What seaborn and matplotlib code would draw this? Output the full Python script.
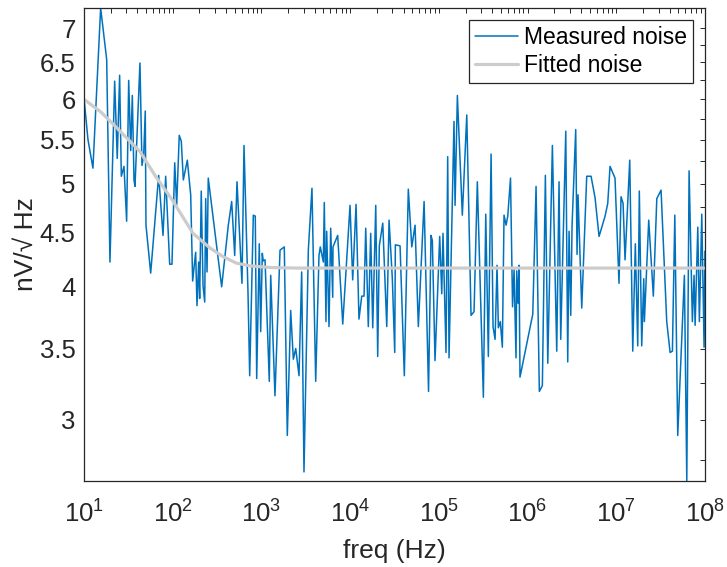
# -*- coding: utf-8 -*-
"""
Noise spectrum, measured vs fitted (log-log)
"""

import numpy as np
import pandas as pd
import seaborn as sns
import matplotlib.pyplot as plt
from matplotlib.ticker import FixedLocator, FixedFormatter, NullFormatter, LogLocator, LogFormatterSciNotation

#%% data (x given as log10 of frequency)
meas_logf = [1.000, 1.045, 1.101, 1.188, 1.256, 1.293, 1.346, 1.375, 1.402, 1.421,
             1.451, 1.481, 1.504, 1.527, 1.545, 1.564, 1.575, 1.631, 1.654, 1.673,
             1.691, 1.699, 1.752, 1.842, 1.891, 1.921, 1.966, 1.992, 2.023, 2.045,
             2.074, 2.097, 2.120, 2.165, 2.203, 2.225, 2.259, 2.274, 2.293, 2.304,
             2.322, 2.342, 2.361, 2.372, 2.387, 2.401, 2.552, 2.627, 2.665, 2.699,
             2.725, 2.781, 2.804, 2.849, 2.868, 2.909, 2.931, 2.947, 2.976, 2.992,
             3.010, 3.021, 3.041, 3.089, 3.105, 3.153, 3.210, 3.258, 3.292, 3.330,
             3.360, 3.387, 3.424, 3.454, 3.480, 3.529, 3.570, 3.612, 3.649, 3.664,
             3.698, 3.709, 3.728, 3.736, 3.762, 3.781, 3.804, 3.807, 3.860, 3.917,
             3.999, 4.029, 4.067, 4.100, 4.131, 4.157, 4.176, 4.205, 4.232, 4.255,
             4.289, 4.311, 4.329, 4.368, 4.413, 4.439, 4.476, 4.503, 4.510, 4.563,
             4.611, 4.656, 4.695, 4.732, 4.769, 4.834, 4.884, 4.912, 4.927, 4.957,
             5.010, 5.033, 5.047, 5.081, 5.100, 5.115, 5.171, 5.183, 5.209, 5.265,
             5.315, 5.363, 5.397, 5.434, 5.502, 5.529, 5.558, 5.589, 5.611, 5.634,
             5.656, 5.671, 5.693, 5.716, 5.735, 5.758, 5.777, 5.808, 5.831, 5.848,
             5.870, 5.878, 5.893, 5.904, 5.915, 6.059, 6.096, 6.133, 6.167, 6.201,
             6.228, 6.280, 6.329, 6.355, 6.374, 6.431, 6.453, 6.468, 6.487, 6.502,
             6.543, 6.558, 6.569, 6.611, 6.667, 6.716, 6.761, 6.806, 6.874, 6.904,
             6.930, 6.986, 7.031, 7.054, 7.077, 7.099, 7.152, 7.186, 7.215, 7.242,
             7.260, 7.287, 7.310, 7.317, 7.366, 7.418, 7.457, 7.505, 7.569, 7.607,
             7.633, 7.660, 7.693, 7.768, 7.795, 7.821, 7.858, 7.877, 7.889, 7.919,
             7.937, 7.964, 7.990, 8.000]
meas_noise = [6.02, 5.50, 5.17, 7.31, 6.54, 4.22, 6.24, 5.28, 6.32, 5.08,
              5.19, 4.61, 6.25, 5.37, 6.05, 5.04, 4.97, 6.49, 5.20, 5.31,
              5.85, 4.57, 4.12, 5.09, 4.47, 5.08, 4.20, 4.20, 5.23, 4.77,
              5.55, 5.48, 5.04, 5.26, 4.88, 4.05, 4.31, 3.84, 4.22, 3.90,
              4.92, 4.01, 3.87, 4.84, 4.13, 5.06, 4.00, 4.57, 4.81, 4.28,
              5.02, 4.03, 5.43, 3.95, 3.30, 4.67, 4.66, 3.28, 4.39, 3.63,
              4.30, 4.23, 4.24, 3.26, 4.10, 3.16, 4.33, 4.36, 2.90, 3.80,
              3.42, 3.50, 3.30, 4.13, 2.68, 4.33, 4.95, 3.26, 4.28, 4.36,
              4.22, 4.80, 3.71, 4.51, 3.67, 4.54, 3.91, 4.36, 4.47, 3.69,
              4.77, 4.06, 4.78, 3.73, 3.92, 3.92, 4.54, 3.67, 4.49, 3.66,
              4.77, 3.44, 4.37, 4.59, 3.67, 4.62, 4.07, 3.47, 4.38, 4.37,
              3.30, 4.94, 4.36, 4.57, 3.67, 4.81, 3.19, 4.47, 4.42, 3.41,
              4.46, 3.94, 4.49, 3.47, 5.30, 3.43, 5.72, 4.77, 6.05, 4.67,
              5.80, 3.76, 3.79, 5.02, 3.15, 4.68, 3.44, 5.33, 3.67, 3.57,
              4.19, 3.66, 3.71, 3.51, 4.67, 4.57, 4.66, 5.06, 3.83, 4.15,
              3.43, 4.14, 3.86, 4.19, 3.29, 3.77, 4.97, 3.19, 3.23, 5.09,
              3.39, 5.43, 3.48, 5.02, 3.57, 5.60, 3.40, 4.51, 3.76, 4.57,
              5.62, 4.29, 4.88, 3.82, 5.08, 5.08, 4.85, 4.46, 4.66, 4.79,
              5.19, 5.06, 4.03, 4.86, 4.79, 4.24, 5.26, 3.48, 4.39, 3.52,
              4.92, 3.52, 4.07, 3.71, 4.62, 3.92, 4.84, 4.93, 3.71, 3.47,
              3.48, 4.67, 2.90, 4.10, 2.63, 5.14, 3.71, 4.10, 3.68, 4.55,
              3.71, 4.68, 3.51, 4.32]

fit_logf = [1.000, 1.188, 1.316, 1.631, 1.800, 1.992, 2.229, 2.420, 2.567, 2.717,
            2.871, 3.100, 3.400, 8.000]
fit_noise = [6.00, 5.84, 5.70, 5.36, 5.09, 4.83, 4.49, 4.35, 4.27, 4.21,
             4.185, 4.17, 4.165, 4.165]

xtick_vals = [1e1, 1e2, 1e3, 1e4, 1e5, 1e6, 1e7, 1e8]
ytick_vals = [3, 3.5, 4, 4.5, 5, 5.5, 6, 6.5, 7]
ytick_labels = ['3', '3.5', '4', '4.5', '5', '5.5', '6', '6.5', '7']
yminor_vals = [2.75, 3.25, 3.75, 4.25, 4.75, 5.25, 5.75, 6.25, 6.75]

df_meas = pd.DataFrame({'freq': np.power(10.0, meas_logf), 'noise': meas_noise})
df_fit = pd.DataFrame({'freq': np.power(10.0, fit_logf), 'noise': fit_noise})

#%% plot
sns.set_style("white")
plt.rcParams['font.family'] = ['Liberation Sans', 'DejaVu Sans']
axcol = '#262626'

fig = plt.figure(figsize=(7.27, 5.67), dpi=100)
ax = fig.add_axes([0.1155, 0.1517, 0.8542, 0.8342])

sns.lineplot(data=df_meas, x='freq', y='noise', ax=ax, sort=False, estimator=None,
             color='#0072BD', lw=1.1, label='Measured noise')
sns.lineplot(data=df_fit, x='freq', y='noise', ax=ax, sort=False, estimator=None,
             color='#CCCCCC', lw=2.3, label='Fitted noise')

ax.set_xscale('log')
ax.set_yscale('log')
ax.set_xlim(10, 1e8)
ax.set_ylim(2.628, 7.31)

ax.xaxis.set_major_locator(FixedLocator(xtick_vals))
ax.xaxis.set_minor_locator(LogLocator(base=10, subs=np.arange(2, 10), numticks=100))
ax.xaxis.set_major_formatter(LogFormatterSciNotation())
ax.xaxis.set_minor_formatter(NullFormatter())
ax.yaxis.set_major_locator(FixedLocator(ytick_vals))
ax.yaxis.set_major_formatter(FixedFormatter(ytick_labels))
ax.yaxis.set_minor_locator(FixedLocator(yminor_vals))
ax.yaxis.set_minor_formatter(NullFormatter())

ax.tick_params(which='both', direction='in', top=True, right=True, length=3.5,
               width=0.7, color=axcol, labelcolor=axcol, labelsize=18.5)
ax.tick_params(axis='x', pad=14)
ax.tick_params(axis='y', pad=6)
for sp in ax.spines.values():
    sp.set_color(axcol)
    sp.set_linewidth(0.9)

ax.set_xlabel('freq (Hz)', fontsize=19, color=axcol, labelpad=8)
ax.set_ylabel('nV/\u221a Hz', fontsize=19, color=axcol)
ax.yaxis.set_label_coords(-0.074, 0.5)

leg = ax.legend(loc='upper right', bbox_to_anchor=(0.9807, 0.9746), borderaxespad=0,
                fancybox=False, framealpha=1, edgecolor=axcol, fontsize=16.5,
                handlelength=1.85, handletextpad=0.25, labelspacing=0.2, borderpad=0.28)
leg.get_frame().set_linewidth(0.9)
for t in leg.get_texts():
    t.set_color('black')

plt.savefig('out.png', dpi=100)
